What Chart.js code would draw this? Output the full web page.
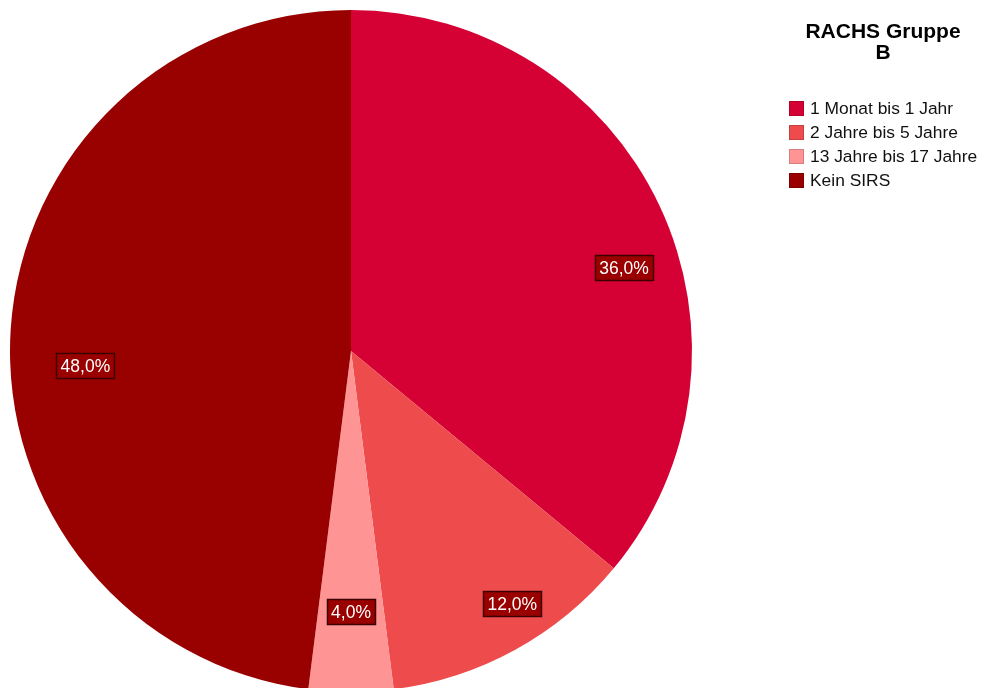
<!DOCTYPE html>
<html>
<head>
<meta charset="utf-8">
<title>RACHS Gruppe B</title>
<script src="https://cdn.jsdelivr.net/npm/chart.js@4/dist/chart.umd.min.js"></script>
<style>
  html, body { margin: 0; padding: 0; background: #ffffff; overflow: hidden; }
  #wrap { position: relative; width: 985px; height: 700px; }
</style>
</head>
<body>
<div id="wrap"><canvas id="pie" width="985" height="700"></canvas></div>
<script>
// Age groups and their shares (percent)
const categories = ['1 Monat bis 1 Jahr', '2 Jahre bis 5 Jahre', '13 Jahre bis 17 Jahre', 'Kein SIRS'];
const shares = [36.0, 12.0, 4.0, 48.0];
const chartTitle = ['RACHS Gruppe', 'B'];

// Slice colours
const sliceColors = ['#d50034', '#ee4c4c', '#ff9494', '#990000'];

// Label placement per slice: angle shift (deg) from the slice middle, radius fraction
const labelShift = [8.3, -3.7, 0, -6.8];
const labelRadius = [0.837, 0.88, 0.765, 0.78];

const pctFormat = v => v.toFixed(1).replace('.', ',') + '%';

// Boxed percentage labels inside the slices
const sliceLabels = {
  id: 'sliceLabels',
  afterDatasetsDraw(chart) {
    const ctx = chart.ctx;
    const meta = chart.getDatasetMeta(0);
    ctx.save();
    ctx.font = '17.5px "Liberation Sans", Arial, sans-serif';
    ctx.textAlign = 'center';
    ctx.textBaseline = 'middle';
    meta.data.forEach((arc, i) => {
      const p = arc.getProps(['x', 'y', 'startAngle', 'endAngle', 'outerRadius'], true);
      const mid = (p.startAngle + p.endAngle) / 2 + labelShift[i] * Math.PI / 180;
      const r = p.outerRadius * labelRadius[i];
      const cx = p.x + Math.cos(mid) * r;
      const cy = p.y + Math.sin(mid) * r;
      const text = pctFormat(chart.data.datasets[0].data[i]);
      const w = ctx.measureText(text).width + 9;
      const h = 26;
      ctx.fillStyle = '#9a0000';
      ctx.fillRect(Math.round(cx - w / 2), Math.round(cy - h / 2), Math.round(w), h);
      ctx.strokeStyle = '#3c0000';
      ctx.lineWidth = 1.5;
      ctx.strokeRect(Math.round(cx - w / 2) + 0.5, Math.round(cy - h / 2) + 0.5, Math.round(w) - 1, h - 1);
      ctx.fillStyle = '#ffffff';
      ctx.fillText(text, cx, cy + 1);
    });
    ctx.restore();
  }
};

// Title and legend on the right
const sideLegend = {
  id: 'sideLegend',
  afterDraw(chart) {
    const ctx = chart.ctx;
    ctx.save();
    ctx.fillStyle = '#000000';
    ctx.textAlign = 'center';
    ctx.textBaseline = 'middle';
    ctx.font = 'bold 21px "Liberation Sans", Arial, sans-serif';
    chartTitle.forEach((line, i) => ctx.fillText(line, 883, 32 + i * 21));

    ctx.textAlign = 'left';
    ctx.font = '17.4px "Liberation Sans", Arial, sans-serif';
    const ds = chart.data.datasets[0];
    chart.data.labels.forEach((lab, i) => {
      const y = 108 + i * 24;
      ctx.fillStyle = ds.backgroundColor[i];
      ctx.fillRect(789, y - 7, 15, 15);
      ctx.strokeStyle = 'rgba(0,0,0,0.15)';
      ctx.lineWidth = 1;
      ctx.strokeRect(789.5, y - 6.5, 14, 14);
      ctx.fillStyle = '#111111';
      ctx.fillText(lab, 810, y + 1);
    });
    ctx.restore();
  }
};

new Chart(document.getElementById('pie'), {
  type: 'pie',
  data: {
    labels: categories,
    datasets: [{
      data: shares,
      backgroundColor: sliceColors,
      borderWidth: 0
    }]
  },
  options: {
    responsive: false,
    animation: false,
    layout: { padding: { left: 10, top: 10, right: 293, bottom: 8 } },
    plugins: {
      legend: { display: false },
      tooltip: { enabled: false },
      title: { display: false }
    }
  },
  plugins: [sliceLabels, sideLegend]
});
</script>
</body>
</html>
